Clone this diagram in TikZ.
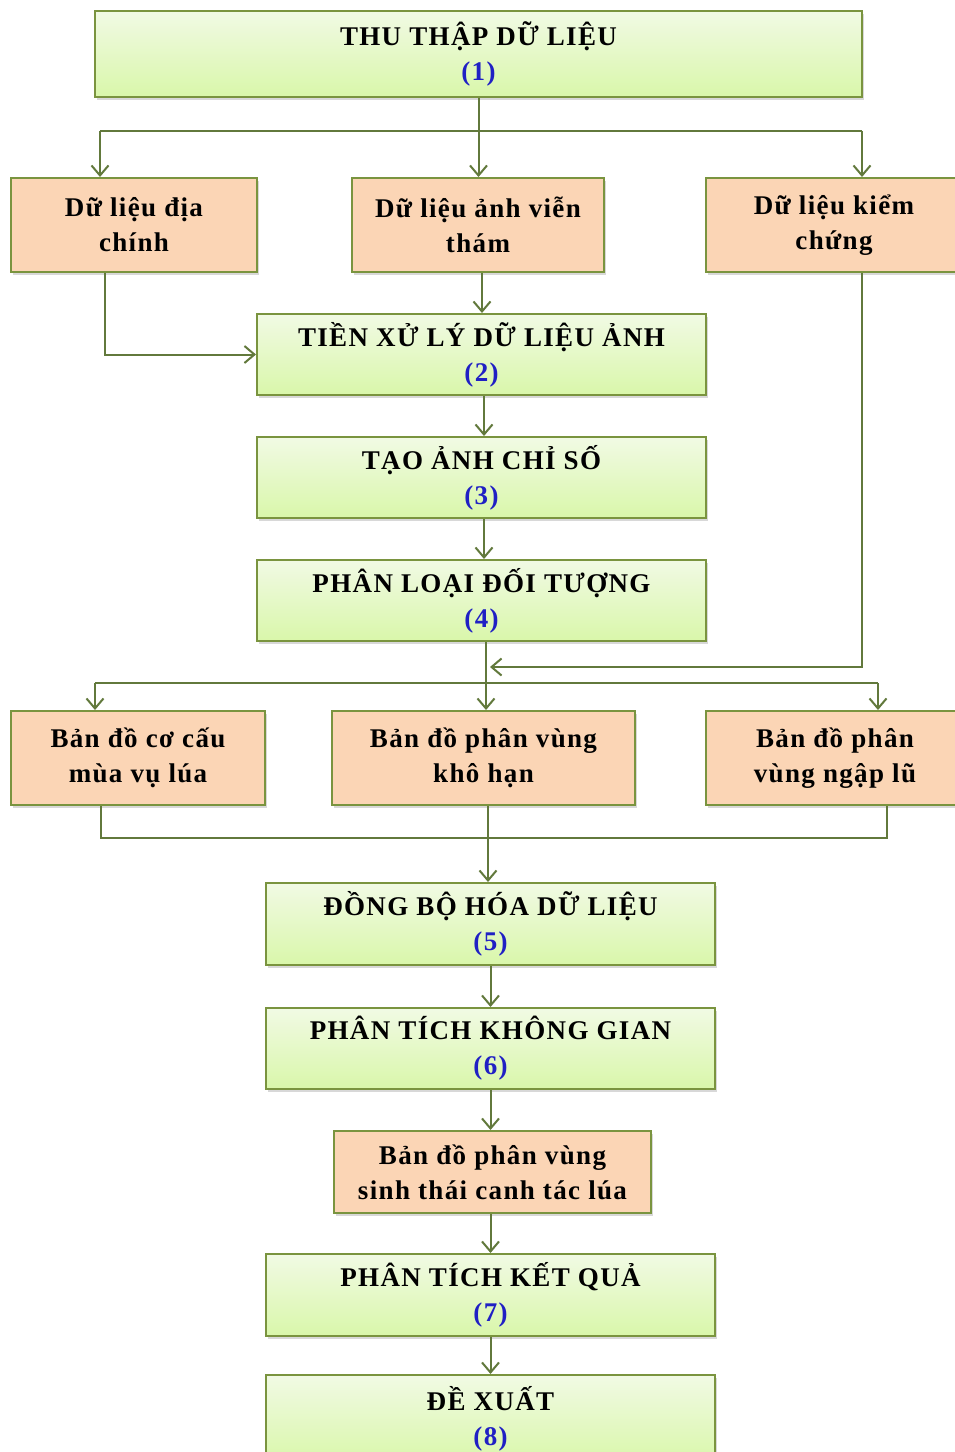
\documentclass[tikz,border=0pt]{standalone}
\usepackage{fontspec}
\setmainfont{Liberation Serif}[LetterSpace=5]
\usetikzlibrary{arrows.meta,shadows}
\definecolor{boxline}{HTML}{7A943F}
\definecolor{wire}{HTML}{62793C}
\definecolor{greentop}{HTML}{F1FAE4}
\definecolor{greenbot}{HTML}{D9F7AA}
\definecolor{peach}{HTML}{FBD5B5}
\definecolor{numblue}{HTML}{2020C4}
\newcommand{\stepno}[1]{\textcolor{numblue}{(#1)}}
\tikzset{
  base/.style={draw=boxline, line width=2pt, inner sep=0pt, align=center,
    font=\fontsize{27}{35}\selectfont\bfseries,
    drop shadow={opacity=0.3, shadow xshift=1.5pt, shadow yshift=-2.5pt}},
  stage/.style={base, top color=greentop, bottom color=greenbot},
  datum/.style={base, fill=peach},
  arr/.style={draw=wire, line width=2pt, -{Straight Barb[length=10pt,width=17pt,line width=2pt]}},
  ln/.style={draw=wire, line width=2pt}
}
\begin{document}
\begin{tikzpicture}[x=1pt,y=-1pt]
\clip (0,0) rectangle (955,1452);
\fill[white] (0,0) rectangle (955,1452);

% main stages
\node[stage, minimum width=767pt, minimum height=86pt] (b1) at (478.5,54) {THU THẬP DỮ LIỆU\\\stepno{1}};
\node[stage, minimum width=449pt, minimum height=81pt] (b2) at (481.5,354.5) {TIỀN XỬ LÝ DỮ LIỆU ẢNH\\\stepno{2}};
\node[stage, minimum width=449pt, minimum height=81pt] (b3) at (481.5,477.5) {TẠO ẢNH CHỈ SỐ\\\stepno{3}};
\node[stage, minimum width=449pt, minimum height=81pt] (b4) at (481.5,600.5) {PHÂN LOẠI ĐỐI TƯỢNG\\\stepno{4}};
\node[stage, minimum width=449pt, minimum height=82pt] (b5) at (490.5,924) {ĐỒNG BỘ HÓA DỮ LIỆU\\\stepno{5}};
\node[stage, minimum width=449pt, minimum height=81pt] (b6) at (490.5,1048.5) {PHÂN TÍCH KHÔNG GIAN\\\stepno{6}};
\node[stage, minimum width=449pt, minimum height=82pt] (b7) at (490.5,1295) {PHÂN TÍCH KẾT QUẢ\\\stepno{7}};
\node[stage, minimum width=449pt, minimum height=88pt] (b8) at (490.5,1419) {ĐỀ XUẤT\\\stepno{8}};

% data and map products
\node[datum, minimum width=246pt, minimum height=94pt] (dA) at (134,225) {Dữ liệu địa\\chính};
\node[datum, minimum width=252pt, minimum height=94pt] (dB) at (478,225) {Dữ liệu ảnh viễn\\thám};
\node[datum, minimum width=256pt, minimum height=94pt] (dC) at (834,225) {Dữ liệu kiểm\\chứng};
\node[datum, minimum width=254pt, minimum height=94pt] (dD) at (138,758) {Bản đồ cơ cấu\\mùa vụ lúa};
\node[datum, minimum width=303pt, minimum height=94pt] (dE) at (483.5,758) {Bản đồ phân vùng\\khô hạn};
\node[datum, minimum width=258pt, minimum height=94pt] (dF) at (835,758) {Bản đồ phân\\vùng ngập lũ};
\node[datum, minimum width=317pt, minimum height=82pt] (dG) at (492.5,1172) {Bản đồ phân vùng\\sinh thái canh tác lúa};

% branching from data collection
\coordinate (jL) at (100,131);
\coordinate (jR) at (862,131);
\draw[ln] (jL) -- (jR);
\draw[arr] (b1.south) -- (b1.south |- dB.north);
\draw[arr] (jL) -- (jL |- dA.north);
\draw[arr] (jR) -- (jR |- dC.north);

% into pre-processing
\draw[arr] (dB.south -| 482,0) -- (482,0 |- b2.north);
\draw[arr] (dA.south -| 105,0) |- (b2.west);

% processing chain
\draw[arr] (b2.south -| 484,0) -- (484,0 |- b3.north);
\draw[arr] (b3.south -| 484,0) -- (484,0 |- b4.north);

% classification outputs
\coordinate (kL) at (95,683);
\coordinate (kR) at (878,683);
\coordinate (fb) at (490,667);
\draw[ln] (kL) -- (kR);
\draw[arr] (b4.south -| 486,0) -- (486,0 |- dE.north);
\draw[arr] (kL) -- (kL |- dD.north);
\draw[arr] (kR) -- (kR |- dF.north);
\draw[arr] (dC.south -| 862,0) |- (fb);

% merging the three maps
\coordinate (mL) at (101,838);
\coordinate (mR) at (887,838);
\draw[ln] (dD.south -| mL) -- (mL) -- (mR) -- (dF.south -| mR);
\draw[arr] (dE.south -| 488,0) -- (488,0 |- b5.north);

% final chain
\draw[arr] (b5.south) -- (b6.north);
\draw[arr] (b6.south) -- (b6.south |- dG.north);
\draw[arr] (dG.south -| b7.north) -- (b7.north);
\draw[arr] (b7.south) -- (b8.north);
\end{tikzpicture}
\end{document}
